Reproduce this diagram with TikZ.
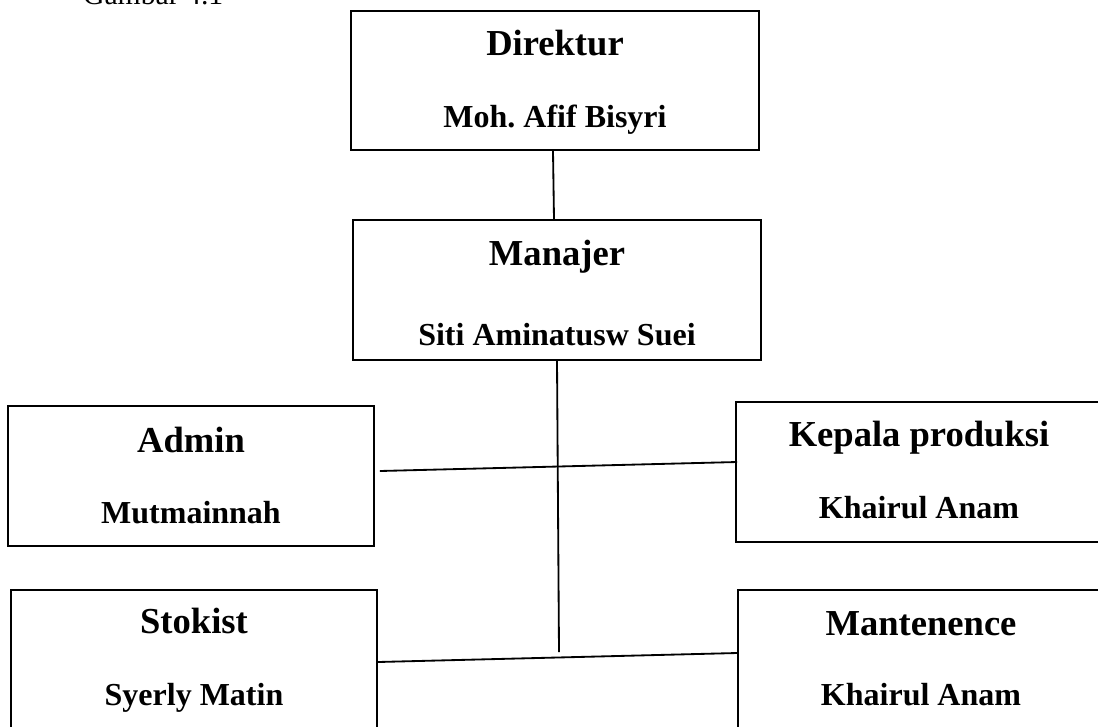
\documentclass[tikz,border=0pt]{standalone}
\usepackage{fontspec}
\setmainfont{Liberation Serif}
\usetikzlibrary{calc}

\begin{document}
\begin{tikzpicture}[x=0.4375pt,y=-0.4375pt,
    box/.style={draw,line width=0.8pt,minimum height=61pt,inner sep=0pt},
    widebox/.style={box,minimum width=178.5pt},
    smallbox/.style={box,minimum width=160.1pt},
    title/.style={anchor=base,font=\fontsize{16}{19}\selectfont\bfseries},
    person/.style={anchor=base,font=\fontsize{14}{17}\selectfont\bfseries},
    link/.style={line width=0.8pt}]
    \useasboundingbox (0,0) rectangle (1098,726);
    \clip (0,0) rectangle (1098,726);

    \node[anchor=base west,font=\fontsize{13}{16}\selectfont] (caption) at (75,4) {Gambar 4.1};

    % boxes
    \node[widebox] (direktur) at (555,80.5) {};
    \node[widebox] (manajer) at (557,290) {};
    \node[smallbox] (admin) at (191,476) {};
    \node[smallbox] (kepala) at (919,472) {};
    \node[smallbox] (stokist) at (194,659.5) {};
    \node[smallbox] (mantenence) at (921,659.5) {};

    % texts
    \node[title] (direktur-t) at (555,55) {Direktur};
    \node[person] (direktur-n) at (555,127) {Moh.\ Afif Bisyri};
    \node[title] (manajer-t) at (557,265) {Manajer};
    \node[person] (manajer-n) at (557,345) {Siti Aminatusw Suei};
    \node[title] (admin-t) at (191,452) {Admin};
    \node[person] (admin-n) at (191,523) {Mutmainnah};
    \node[title] (kepala-t) at (919,446) {Kepala produksi};
    \node[person] (kepala-n) at (919,518) {Khairul Anam};
    \node[title] (stokist-t) at (194,633) {Stokist};
    \node[person] (stokist-n) at (194,705) {Syerly Matin};
    \node[title] (mantenence-t) at (921,635) {Mantenence};
    \node[person] (mantenence-n) at (921,705) {Khairul Anam};

    \coordinate (trunk) at (559,652);

    \draw[link] ($(direktur.south)+(-2,0)$) -- ($(manajer.north)+(-3,0)$);
    \draw[link] (manajer.south) -- (trunk);
    \draw[link] ($(admin.east)+(5,-5)$) -- ($(kepala.west)+(2,-10)$);
    \draw[link] ($(stokist.east)+(0,2.5)$) -- ($(mantenence.west)+(0,-6.5)$);
\end{tikzpicture}
\end{document}
